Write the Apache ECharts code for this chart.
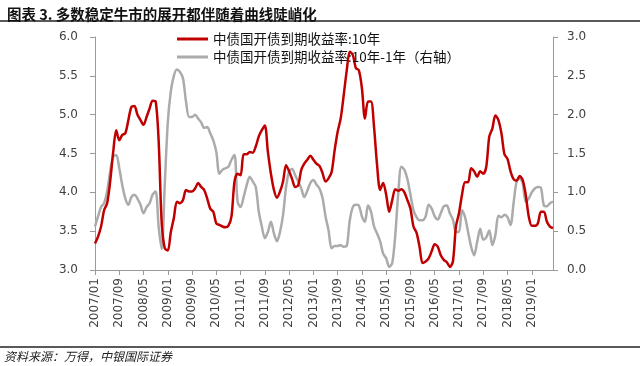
<!DOCTYPE html>
<html>
<head>
<meta charset="utf-8">
<script src="https://cdn.jsdelivr.net/npm/echarts@6/dist/echarts.min.js"></script>
<style>
html,body{margin:0;padding:0;background:#fff;}
#c{width:640px;height:366px;}
</style>
</head>
<body>
<div id="c"></div>
<script>
// Monthly categories 2007/01 .. 2019/08
var startYear = 2007, startMonth = 1, monthCount = 152;
var categories = [];
for (var i = 0; i < monthCount; i++) {
  var y = startYear + Math.floor((startMonth - 1 + i) / 12);
  var m = (startMonth - 1 + i) % 12 + 1;
  categories.push(y + '/' + (m < 10 ? '0' + m : m));
}

var seriesNames = ['中债国开债到期收益率:10年', '中债国开债到期收益率:10年-1年（右轴）'];

var yield10 = [
3.34,3.43,3.56,3.77,3.86,4.14,4.52,4.80,4.67,4.74,4.76,4.93,
5.10,5.11,5.00,4.93,4.87,4.97,5.08,5.18,5.17,4.65,3.60,3.28,
3.25,3.49,3.67,3.88,3.86,3.90,4.03,4.01,4.01,4.05,4.12,4.07,
4.03,3.92,3.79,3.75,3.60,3.58,3.56,3.55,3.57,3.69,4.14,4.24,
4.22,4.49,4.49,4.52,4.51,4.59,4.72,4.80,4.86,4.52,4.24,4.03,
3.93,4.01,4.14,4.35,4.27,4.17,4.07,4.09,4.29,4.37,4.42,4.47,
4.42,4.37,4.34,4.25,4.14,4.18,4.26,4.54,4.78,4.95,5.25,5.57,
5.81,5.77,5.60,5.57,5.34,4.95,5.17,5.17,4.84,4.35,4.03,4.12,
3.97,3.75,3.90,4.04,4.02,4.04,4.00,3.90,3.79,3.56,3.48,3.30,
3.09,3.11,3.15,3.24,3.33,3.30,3.19,3.13,3.10,3.04,3.11,3.56,
3.73,3.97,4.13,4.13,4.31,4.27,4.20,4.27,4.24,4.33,4.72,4.82,
4.99,4.93,4.76,4.49,4.43,4.27,4.17,4.15,4.21,4.16,3.97,3.69,
3.57,3.57,3.60,3.75,3.75,3.62,3.56,3.54
];

var spread10_1 = [
0.56,0.69,0.81,0.86,1.01,1.27,1.46,1.48,1.31,1.09,0.92,0.84,
0.94,0.97,0.92,0.84,0.73,0.81,0.86,0.97,1.01,0.55,0.27,1.10,
1.90,2.30,2.50,2.58,2.55,2.47,2.17,1.97,1.97,2.00,1.95,1.90,
1.83,1.84,1.76,1.67,1.52,1.24,1.29,1.31,1.33,1.42,1.48,0.88,
0.81,0.94,1.09,1.20,1.14,1.07,0.75,0.56,0.41,0.49,0.62,0.47,
0.37,0.49,0.71,1.07,1.27,1.30,1.22,1.14,1.05,0.94,1.02,1.12,
1.16,1.10,1.05,0.93,0.69,0.51,0.28,0.31,0.31,0.32,0.30,0.31,
0.64,0.81,0.84,0.83,0.69,0.62,0.83,0.75,0.56,0.47,0.37,0.21,
0.15,0.04,0.09,0.45,1.00,1.33,1.29,1.17,0.97,0.77,0.68,0.64,
0.64,0.69,0.84,0.79,0.69,0.65,0.73,0.82,0.83,0.73,0.65,0.49,
0.49,0.77,0.68,0.49,0.30,0.19,0.36,0.53,0.39,0.42,0.51,0.32,
0.45,0.70,0.68,0.71,0.68,0.58,0.86,1.14,1.18,1.12,0.88,0.92,
1.00,1.05,1.07,1.06,0.83,0.82,0.86,0.88
];

var chart = echarts.init(document.getElementById('c'), null, {renderer: 'canvas'});
var axisFont = 'DejaVu Sans';
var labelColor = '#404040';
var axisLineColor = '#9a9a9a';

chart.setOption({
  backgroundColor: '#fff',
  animation: false,
  title: {
    text: '图表 3. 多数稳定牛市的展开都伴随着曲线陡峭化',
    left: 2, top: 2,
    textStyle: {fontFamily: 'Noto Sans CJK SC', fontSize: 14.5, fontWeight: 'bold', color: '#111'}
  },
  graphic: [
    {type: 'line', shape: {x1: 0, y1: 21, x2: 640, y2: 21}, style: {stroke: '#222', lineWidth: 1.5}},
    {type: 'line', shape: {x1: 0, y1: 347, x2: 640, y2: 347}, style: {stroke: '#222', lineWidth: 1.5}},
    {type: 'text', left: 4, top: 350, style: {text: '资料来源：万得，中银国际证券', font: 'italic 12px "Noto Sans CJK SC"', fill: '#222'}}
  ],
  legend: {
    orient: 'vertical',
    left: 172, top: 27,
    icon: 'rect',
    itemWidth: 31, itemHeight: 3, itemGap: 4,
    data: [seriesNames[0], seriesNames[1]],
    textStyle: {fontFamily: 'Noto Sans CJK SC', fontSize: 13.5, color: '#111', lineHeight: 14}
  },
  grid: {left: 95, right: 87, top: 37, bottom: 96, containLabel: false},
  xAxis: {
    type: 'category',
    data: categories,
    boundaryGap: false,
    axisLine: {lineStyle: {color: axisLineColor, width: 1}},
    axisTick: {interval: 7, length: 5, lineStyle: {color: axisLineColor}},
    axisLabel: {interval: 7, rotate: 90, margin: 8, fontFamily: axisFont, fontSize: 12, color: labelColor},
    splitLine: {show: false}
  },
  yAxis: [
    {
      type: 'value', min: 3, max: 6, interval: 0.5, position: 'left',
      axisLine: {show: true, lineStyle: {color: axisLineColor}},
      axisTick: {show: true, length: 5, lineStyle: {color: axisLineColor}},
      axisLabel: {margin: 17, fontFamily: axisFont, fontSize: 12, color: labelColor,
        formatter: function (v) { return v.toFixed(1); }},
      splitLine: {show: false}
    },
    {
      type: 'value', min: 0, max: 3, interval: 0.5, position: 'right',
      axisLine: {show: true, lineStyle: {color: axisLineColor}},
      axisTick: {show: true, length: 5, lineStyle: {color: axisLineColor}},
      axisLabel: {margin: 14, fontFamily: axisFont, fontSize: 12, color: labelColor,
        formatter: function (v) { return v.toFixed(1); }},
      splitLine: {show: false}
    }
  ],
  series: [
    {
      name: seriesNames[1], type: 'line', yAxisIndex: 1, data: spread10_1,
      symbol: 'none', smooth: 0.3,
      lineStyle: {color: '#ababab', width: 2.5},
      itemStyle: {color: '#ababab'}, z: 2
    },
    {
      name: seriesNames[0], type: 'line', yAxisIndex: 0, data: yield10,
      symbol: 'none', smooth: 0.3,
      lineStyle: {color: '#c00000', width: 2.5},
      itemStyle: {color: '#c00000'}, z: 3
    }
  ]
});
</script>
</body>
</html>
